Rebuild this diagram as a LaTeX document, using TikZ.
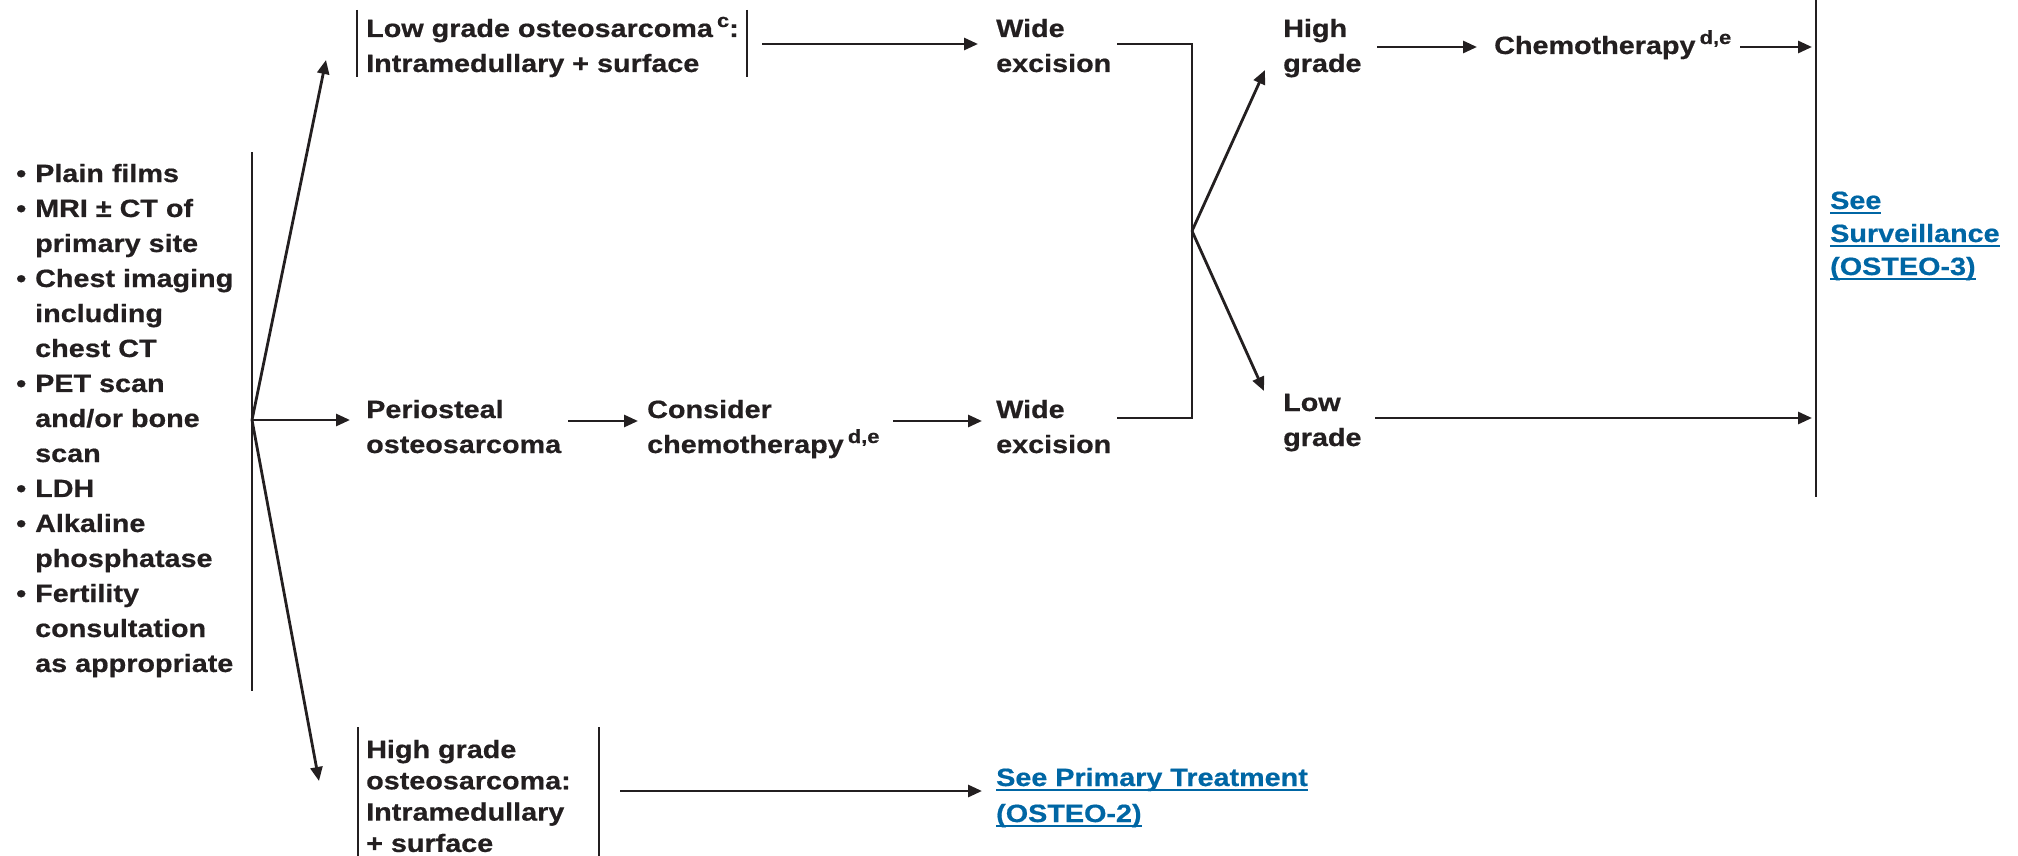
\documentclass[tikz,border=0pt]{standalone}
\usepackage{fontspec}
\setmainfont{Liberation Sans}[FakeStretch=1.15, BoldFeatures={FakeBold=0.6}]
\usetikzlibrary{arrows.meta}

\definecolor{ink}{RGB}{35,31,32}
\definecolor{linkblue}{RGB}{0,102,164}

% raised footnote letters
\newcommand\sups[1]{\,\raisebox{0.4em}{\fontsize{19}{19}\selectfont #1}}
% underlined cross-reference text
\newcommand\lnk[1]{\setbox0\hbox{#1}\rlap{\rule[-5pt]{\wd0}{2.2pt}}\box0}
% bullet item and hanging indent
\newcommand\bu{\makebox[19pt][l]{•}}
\newcommand\ind{\hspace*{19pt}}
% stacked lines, baseline at the first line
\newcommand\lines[1]{\begin{tabular}[t]{@{}l@{}}#1\end{tabular}}

\tikzset{
  lbl/.style={inner sep=0pt, anchor=base west, text=ink,
              font=\fontsize{25}{35}\selectfont\bfseries},
  link/.style={lbl, text=linkblue},
  ln/.style={draw=ink, line width=2.8pt},
  arr/.style={ln, -{Triangle[length=14pt,width=12pt]}},
}

\begin{document}
\begin{tikzpicture}[x=1pt,y=-1pt]
\useasboundingbox (0,0) rectangle (2018,856);

% ---------- work-up ----------
\node[lbl] (workup) at (16,182) {\lines{%
  \bu Plain films\\
  \bu MRI ± CT of\\
  \ind primary site\\
  \bu Chest imaging\\
  \ind including\\
  \ind chest CT\\
  \bu PET scan\\
  \ind and/or bone\\
  \ind scan\\
  \bu LDH\\
  \bu Alkaline\\
  \ind phosphatase\\
  \bu Fertility\\
  \ind consultation\\
  \ind as appropriate}};
\draw[ln] (252,152) -- (252,691);
\coordinate (split) at (252,420);

% ---------- low grade ----------
\node[lbl] (lowgrade) at (366,37) {\lines{Low grade osteosarcoma\sups{c}:\\Intramedullary + surface}};
\draw[ln] (357,10) -- (357,77);
\draw[ln] (747,10) -- (747,77);
\coordinate (lowin) at (326,60);
\coordinate (lowout) at (762,44);
\node[lbl] (wideA) at (996,37) {\lines{Wide\\excision}};
\coordinate (wideAin) at (978,44);

% ---------- periosteal ----------
\node[lbl] (perio) at (366,418) {\lines{Periosteal\\osteosarcoma}};
\coordinate (perioin) at (350,420);
\coordinate (perioout) at (568,421);
\node[lbl] (consider) at (647,418) {\lines{Consider\\chemotherapy\sups{d,e}}};
\coordinate (considerin) at (638,421);
\coordinate (considerout) at (893,421);
\node[lbl] (wideB) at (996,418) {\lines{Wide\\excision}};
\coordinate (wideBin) at (982,421);

% ---------- high grade ----------
\node[lbl, font=\fontsize{25}{31.3}\selectfont\bfseries] (highgrade) at (366,758)
  {\lines{High grade\\osteosarcoma:\\Intramedullary\\+ surface}};
\draw[ln] (358,727) -- (358,856);
\draw[ln] (599,727) -- (599,856);
\coordinate (highin) at (319,781);
\coordinate (highout) at (620,791);
\node[link, font=\fontsize{25}{36}\selectfont\bfseries] (primary) at (996,786)
  {\lines{\lnk{See Primary Treatment}\\\lnk{(OSTEO-2)}}};
\coordinate (primaryin) at (982,791);

% work-up branches
\draw[arr] (split) -- (lowin);
\draw[arr] (split) -- (perioin);
\draw[arr] (split) -- (highin);

\draw[arr] (lowout) -- (wideAin);
\draw[arr] (perioout) -- (considerin);
\draw[arr] (considerout) -- (wideBin);
\draw[arr] (highout) -- (primaryin);

% ---------- pathology after excision ----------
\draw[ln] (1117,44) -- (1192,44) -- (1192,418) -- (1117,418);
\coordinate (grade) at (1192,231);
\node[lbl] (hg) at (1283,37) {\lines{High\\grade}};
\node[lbl] (lg) at (1283,411) {\lines{Low\\grade}};
\coordinate (hgin) at (1265,70);
\coordinate (lgin) at (1264,391);
\draw[arr] (grade) -- (hgin);
\draw[arr] (grade) -- (lgin);

\node[lbl] (chemo) at (1494,54) {Chemotherapy\sups{d,e}};
\coordinate (hgout) at (1377,47);
\coordinate (chemoin) at (1477,47);
\coordinate (chemoout) at (1740,47);
\draw[arr] (hgout) -- (chemoin);

% ---------- surveillance ----------
\draw[ln] (1816,0) -- (1816,497);
\coordinate (survtop) at (1812,47);
\coordinate (survlow) at (1812,418);
\coordinate (lgout) at (1375,418);
\draw[arr] (chemoout) -- (survtop);
\draw[arr] (lgout) -- (survlow);
\node[link, font=\fontsize{25}{33}\selectfont\bfseries] (surv) at (1830,209)
  {\lines{\lnk{See}\\\lnk{Surveillance}\\\lnk{(OSTEO-3)}}};

\end{tikzpicture}
\end{document}
